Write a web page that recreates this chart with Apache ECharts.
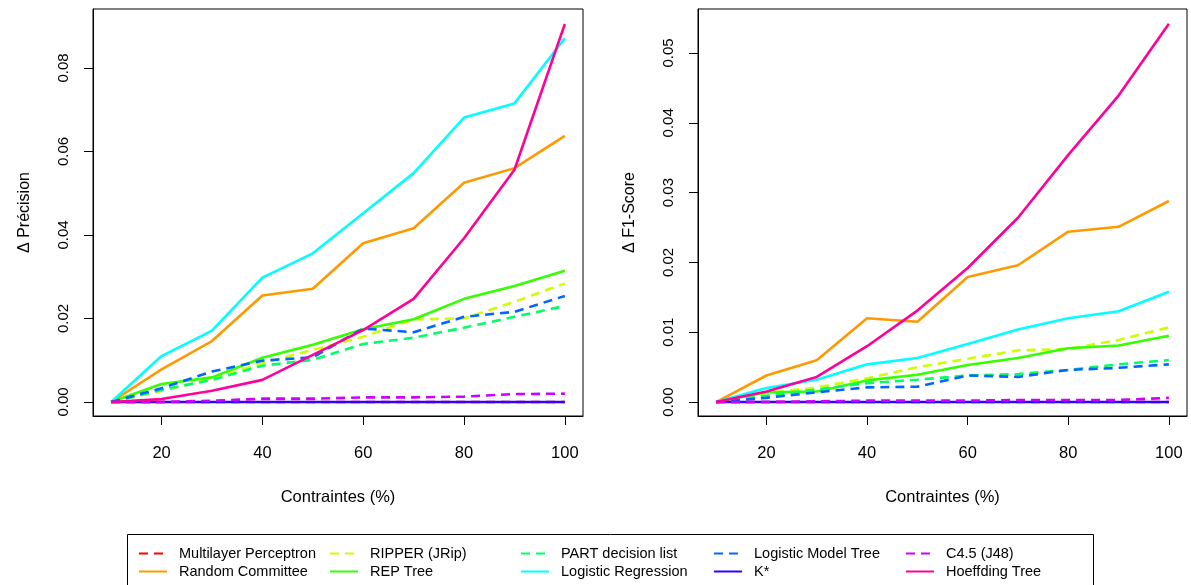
<!DOCTYPE html>
<html>
<head>
<meta charset="utf-8">
<script src="https://cdn.jsdelivr.net/npm/echarts@6/dist/echarts.min.js"></script>
<style>
html,body{margin:0;padding:0;background:#fff;}
#chart{width:1191px;height:585px;}
</style>
</head>
<body>
<div id="chart"></div>
<script>
// ---- data ----
const constraints = [10, 20, 30, 40, 50, 60, 70, 80, 90, 100];
const xTicks = [20, 40, 60, 80, 100];
const precisionTicks = [0, 0.02, 0.04, 0.06, 0.08];
const f1Ticks = [0, 0.01, 0.02, 0.03, 0.04, 0.05];
const models = ["Multilayer Perceptron", "Random Committee", "RIPPER (JRip)", "REP Tree",
  "PART decision list", "Logistic Regression", "Logistic Model Tree", "K*", "C4.5 (J48)", "Hoeffding Tree"];

// Δ Précision
const precMLP  = [0, 0, 0, 0, 0, 0, 0, 0, 0, 0];
const precRC   = [0, 0.0078, 0.0146, 0.0255, 0.0271, 0.0380, 0.0416, 0.0525, 0.0560, 0.0637];
const precJRip = [0, 0.0027, 0.0055, 0.0093, 0.0125, 0.0156, 0.0198, 0.0200, 0.0240, 0.0284];
const precREP  = [0, 0.0043, 0.0059, 0.0106, 0.0137, 0.0174, 0.0198, 0.0247, 0.0278, 0.0314];
const precPART = [0, 0.0029, 0.0053, 0.0087, 0.0101, 0.0139, 0.0154, 0.0178, 0.0204, 0.0230];
const precLR   = [0, 0.0110, 0.0171, 0.0298, 0.0356, 0.0452, 0.0548, 0.0681, 0.0715, 0.0871];
const precLMT  = [0, 0.0033, 0.0073, 0.0099, 0.0107, 0.0176, 0.0167, 0.0204, 0.0216, 0.0254];
const precKS   = [0, 0, 0, 0, 0, 0, 0, 0, 0, 0];
const precJ48  = [0, 0, 0.0003, 0.0008, 0.0008, 0.0011, 0.0011, 0.0013, 0.0019, 0.0020];
const precHT   = [0, 0.0007, 0.0027, 0.0053, 0.0113, 0.0172, 0.0247, 0.0392, 0.0556, 0.0905];

// Δ F1-Score
const f1MLP  = [0, 0, 0, 0, 0, 0, 0, 0, 0, 0];
const f1RC   = [0, 0.0038, 0.0060, 0.0120, 0.0115, 0.0179, 0.0196, 0.0244, 0.0251, 0.0288];
const f1JRip = [0, 0.0013, 0.0021, 0.0034, 0.0050, 0.0062, 0.0074, 0.0076, 0.0089, 0.0107];
const f1REP  = [0, 0.0014, 0.0015, 0.0031, 0.0039, 0.0053, 0.0063, 0.0077, 0.0081, 0.0095];
const f1PART = [0, 0.0009, 0.0018, 0.0027, 0.0032, 0.0038, 0.0040, 0.0046, 0.0054, 0.0060];
const f1LR   = [0, 0.0020, 0.0032, 0.0054, 0.0063, 0.0083, 0.0104, 0.0120, 0.0130, 0.0158];
const f1LMT  = [0, 0.0006, 0.0014, 0.0021, 0.0022, 0.0038, 0.0036, 0.0046, 0.0049, 0.0054];
const f1KS   = [0, 0, 0, 0, 0, 0, 0, 0, 0, 0];
const f1J48  = [0, 0, 0.0001, 0.0002, 0.0002, 0.0002, 0.0003, 0.0003, 0.0003, 0.0006];
const f1HT   = [0, 0.0015, 0.0036, 0.0080, 0.0131, 0.0192, 0.0264, 0.0354, 0.0439, 0.0542];

const precisionData = [precMLP, precRC, precJRip, precREP, precPART, precLR, precLMT, precKS, precJ48, precHT];
const f1Data = [f1MLP, f1RC, f1JRip, f1REP, f1PART, f1LR, f1LMT, f1KS, f1J48, f1HT];

// ---- styles ----
const colors = ["#FF0000", "#FF9900", "#CCFF00", "#33FF00", "#00FF66", "#00FFFF", "#0066FF", "#3300FF", "#CC00FF", "#FF0099"];
const dashed = [true, false, true, false, true, false, true, false, true, false];

const FONT = "Liberation Sans, Arial, sans-serif";

function makeSeries(dataSets, gridIdx) {
  return dataSets.map((vals, i) => ({
    name: models[i],
    type: 'line',
    xAxisIndex: gridIdx,
    yAxisIndex: gridIdx,
    symbol: 'none',
    showSymbol: false,
    silent: true,
    animation: false,
    z: 2 + i * 0.01,
    lineStyle: { color: colors[i], width: 2.6, type: dashed[i] ? [9, 6] : 'solid', cap: 'butt' },
    itemStyle: { color: colors[i] },
    data: constraints.map((x, k) => [x, vals[k]])
  }));
}

function xAxis(gridIdx) {
  return {
    type: 'value', gridIndex: gridIdx, min: 6.4, max: 103.6,
    name: 'Contraintes (%)', nameLocation: 'middle', nameGap: 73,
    nameTextStyle: { fontFamily: FONT, fontSize: 16.5, color: '#000' },
    axisLine: { show: true, onZero: false, lineStyle: { color: '#000', width: 1 } },
    axisTick: { show: true, length: 9, lineStyle: { color: '#000', width: 1 }, customValues: xTicks },
    axisLabel: { show: true, margin: 29, fontFamily: FONT, fontSize: 16.5, color: '#000', customValues: xTicks },
    splitLine: { show: false }
  };
}

function yAxis(gridIdx, min, max, ticks, name) {
  return {
    type: 'value', gridIndex: gridIdx, min: min, max: max,
    name: name, nameLocation: 'middle', nameGap: 60, nameRotate: 90,
    nameTextStyle: { fontFamily: FONT, fontSize: 16, color: '#000' },
    axisLine: { show: true, onZero: false, lineStyle: { color: '#000', width: 1 } },
    axisTick: { show: true, length: 9, lineStyle: { color: '#000', width: 1 }, customValues: ticks },
    axisLabel: { show: true, rotate: 90, margin: 22, fontFamily: FONT, fontSize: 15, color: '#000',
      customValues: ticks, formatter: v => v.toFixed(2) },
    splitLine: { show: false }
  };
}

const legendCols = [[0, 1], [2, 3], [4, 5], [6, 7], [8, 9]];
const legendLeft = [138, 329, 520, 713, 905];
const legends = legendCols.map((col, c) => ({
  orient: 'vertical', left: legendLeft[c], top: 546, padding: 0,
  itemWidth: 28, itemHeight: 14, itemGap: 3,
  selectedMode: false,
  itemStyle: { opacity: 0 },
  data: col.map(i => models[i]),
  textStyle: { fontFamily: FONT, fontSize: 14.5, color: '#000', padding: [0, 0, 0, 7] }
}));

const chart = echarts.init(document.getElementById('chart'), null, { renderer: 'canvas' });
chart.setOption({
  animation: false,
  backgroundColor: '#fff',
  grid: [
    { left: 93, top: 9, width: 490, height: 407, show: true, borderColor: '#000', borderWidth: 1, containLabel: false },
    { left: 698, top: 9, width: 489, height: 407, show: true, borderColor: '#000', borderWidth: 1, containLabel: false }
  ],
  xAxis: [xAxis(0), xAxis(1)],
  yAxis: [
    yAxis(0, -0.00335, 0.0941, precisionTicks, 'Δ Précision'),
    yAxis(1, -0.0020, 0.0563, f1Ticks, 'Δ F1-Score')
  ],
  legend: legends,
  graphic: [{
    type: 'rect', left: 125, top: 532, silent: true,
    shape: { width: 966, height: 70 },
    style: { fill: 'none', stroke: '#000', lineWidth: 1 }
  }],
  series: makeSeries(precisionData, 0).concat(makeSeries(f1Data, 1))
});
</script>
</body>
</html>
